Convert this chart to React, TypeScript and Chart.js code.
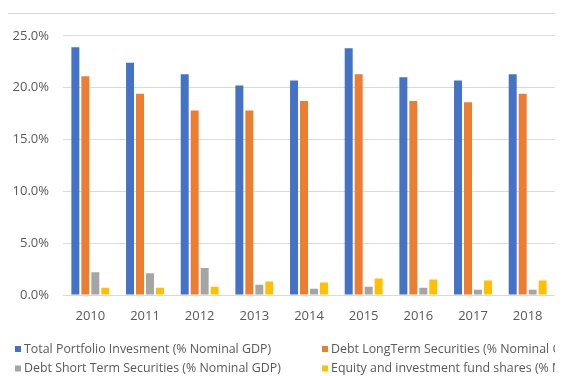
import { useEffect, useRef } from "react";
import { Chart, registerables } from "chart.js";

Chart.register(...registerables);

const years = ["2010", "2011", "2012", "2013", "2014", "2015", "2016", "2017", "2018"];
const totalPortfolio = [23.9, 22.4, 21.3, 20.2, 20.7, 23.8, 21.0, 20.7, 21.3];
const debtLongTerm = [21.1, 19.4, 17.8, 17.8, 18.7, 21.3, 18.7, 18.6, 19.4];
const debtShortTerm = [2.2, 2.1, 2.6, 1.0, 0.6, 0.8, 0.7, 0.5, 0.5];
const equityFunds = [0.7, 0.7, 0.8, 1.3, 1.2, 1.6, 1.5, 1.4, 1.4];

const seriesLabels = [
  "Total Portfolio Invesment (% Nominal GDP)",
  "Debt LongTerm Securities (% Nominal GDP)",
  "Debt Short Term Securities (% Nominal GDP)",
  "Equity and investment fund shares (% Nominal GDP)",
];
const seriesColors = ["#4472C4", "#ED7D31", "#A5A5A5", "#FFC000"];

const FONT = '"Open Sans", sans-serif';
const TEXT = "#595959";
const GRID = "#D9D9D9";

// Two-column legend below the x axis
const gridLegend = {
  id: "gridLegend",
  afterDraw(chart: any) {
    const { ctx, chartArea } = chart;
    ctx.save();
    ctx.font = `12.4px ${FONT}`;
    ctx.textBaseline = "middle";
    ctx.textAlign = "left";
    chart.data.datasets.forEach((ds: any, i: number) => {
      const col = i % 2;
      const row = Math.floor(i / 2);
      const x = col === 0 ? 7 : 314;
      const y = chartArea.bottom + 54 + row * 19.5;
      ctx.fillStyle = ds.backgroundColor;
      ctx.fillRect(x, y - 3, 6, 6);
      ctx.fillStyle = TEXT;
      ctx.fillText(ds.label, x + 9, y);
    });
    ctx.restore();
  },
};

export default function App() {
  const canvasRef = useRef<HTMLCanvasElement | null>(null);

  useEffect(() => {
    const canvas = canvasRef.current;
    if (!canvas) return;
    const values = [totalPortfolio, debtLongTerm, debtShortTerm, equityFunds];
    const chart = new Chart(canvas, {
      type: "bar",
      data: {
        labels: years,
        datasets: values.map((data, i) => ({
          label: seriesLabels[i],
          data,
          backgroundColor: seriesColors[i],
          borderWidth: 0,
          barPercentage: 0.8,
          categoryPercentage: 0.73,
        })),
      },
      options: {
        responsive: false,
        animation: false,
        layout: { padding: { left: 0, right: 8, top: 18, bottom: 69 } },
        plugins: {
          legend: { display: false },
          tooltip: { enabled: false },
        },
        scales: {
          x: {
            grid: { display: false, drawTicks: false },
            border: { display: false },
            ticks: {
              color: TEXT,
              font: { family: FONT, size: 13 },
              padding: 13,
              maxRotation: 0,
            },
            afterFit: (scale: any) => {
              scale.height = 30;
            },
          },
          y: {
            min: 0,
            max: 25,
            grid: { color: GRID, lineWidth: 1, drawTicks: false },
            border: { display: false },
            ticks: {
              stepSize: 5,
              color: TEXT,
              font: { family: FONT, size: 13 },
              padding: 14,
              callback: (v: any) => Number(v).toFixed(1) + "%",
            },
            afterFit: (scale: any) => {
              scale.width = 55;
            },
          },
        },
      },
      plugins: [gridLegend],
    });
    return () => chart.destroy();
  }, []);

  return (
    <div
      style={{
        width: 555,
        height: 362,
        overflow: "hidden",
        marginLeft: -1,
        marginTop: 5,
        borderTop: `1px solid ${GRID}`,
        borderLeft: `1px solid ${GRID}`,
        background: "#fff",
      }}
    >
      <canvas ref={canvasRef} width={555} height={380} style={{ display: "block" }} />
    </div>
  );
}
